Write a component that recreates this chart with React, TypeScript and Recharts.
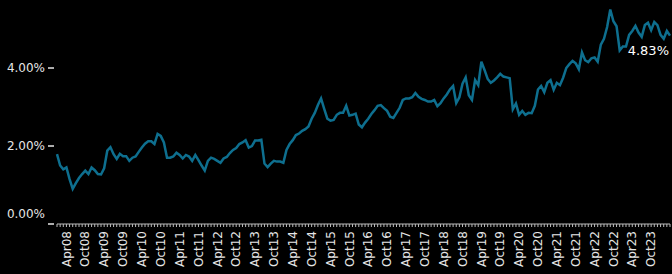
import React from 'react';
import { LineChart, Line, XAxis, YAxis, LabelList } from 'recharts';

// monthly observations, Jan 2008 .. Apr 2024
const monthNames = ['Jan', 'Feb', 'Mar', 'Apr', 'May', 'Jun', 'Jul', 'Aug', 'Sep', 'Oct', 'Nov', 'Dec'];
const years = ['08', '09', '10', '11', '12', '13', '14', '15', '16', '17', '18', '19', '20', '21', '22', '23', '24'];
const labelMonths = ['Apr', 'Oct'];
const lastLabelled = 'Oct23';
const yTicks = [0, 2, 4];

const rates = [
  1.79, 1.5, 1.4, 1.45, 1.15, 0.9, 1.05, 1.18, 1.28, 1.37, 1.28, 1.45,
  1.38, 1.28, 1.27, 1.43, 1.88, 1.97, 1.79, 1.67, 1.8, 1.74, 1.74, 1.62,
  1.7, 1.73, 1.85, 1.96, 2.06, 2.12, 2.12, 2.05, 2.31, 2.26, 2.09, 1.7,
  1.7, 1.73, 1.83, 1.77, 1.68, 1.77, 1.73, 1.62, 1.77, 1.64, 1.5, 1.37,
  1.62, 1.7, 1.67, 1.62, 1.57, 1.68, 1.72, 1.82, 1.9, 1.95, 2.05, 2.09,
  2.15, 1.96, 2.0, 2.14, 2.14, 2.16, 1.55, 1.46, 1.55, 1.62, 1.6, 1.6,
  1.57, 1.9, 2.05, 2.15, 2.28, 2.32, 2.39, 2.43, 2.5, 2.7, 2.85, 3.05,
  3.22, 2.95, 2.7, 2.65, 2.67, 2.8, 2.85, 2.85, 3.03, 2.78, 2.8, 2.83,
  2.55, 2.48, 2.6, 2.7, 2.82, 2.92, 3.03, 3.05, 2.97, 2.9, 2.75, 2.72,
  2.85, 2.98, 3.18, 3.22, 3.22, 3.25, 3.36, 3.26, 3.21, 3.18, 3.14, 3.14,
  3.18, 3.02, 3.1, 3.22, 3.32, 3.45, 3.54, 3.1, 3.25, 3.6, 3.76, 3.3,
  3.18, 3.69, 3.56, 4.16, 3.95, 3.72, 3.62, 3.68, 3.76, 3.85, 3.78, 3.76,
  3.74, 2.94, 3.09, 2.8, 2.9, 2.8, 2.85, 2.84, 3.03, 3.45, 3.54, 3.38,
  3.62, 3.69, 3.44, 3.62, 3.56, 3.75, 4.0, 4.1, 4.18, 4.12, 3.97, 4.4,
  4.2, 4.15, 4.25, 4.27, 4.16, 4.6, 4.75, 5.05, 5.5, 5.2, 5.07, 4.45,
  4.55, 4.55, 4.85, 4.95, 5.08, 4.91, 4.8, 5.1, 5.16, 4.97, 5.18, 5.1,
  4.85, 4.75, 4.95, 4.83,
];

const categories: string[] = [];
years.forEach((yr) => monthNames.forEach((m) => categories.push(m + yr)));

const data = rates.map((v, i) => ({ month: categories[i], rate: v }));
const lastIdx = categories.indexOf(lastLabelled);

const TEXT = '#e6e6e6';
const FONT = 'DejaVu Sans, sans-serif';

const XTick = (props: any) => {
  const { x, y, payload } = props;
  const label: string = payload.value;
  const show = labelMonths.includes(label.slice(0, 3)) && categories.indexOf(label) <= lastIdx;
  return (
    <g>
      <line x1={x} y1={y} x2={x} y2={y + 3} stroke="#bbb" strokeWidth={1} />
      {show && (
        <text
          x={x}
          y={y + 7}
          dy="0.35em"
          transform={`rotate(-90, ${x}, ${y + 7})`}
          textAnchor="end"
          fill={TEXT}
          fontSize={12}
          fontFamily={FONT}
        >
          {label}
        </text>
      )}
    </g>
  );
};

const YTick = (props: any) => {
  const { x, y, payload } = props;
  const shift = payload.value === 0 ? -10 : 0;
  return (
    <g>
      <line x1={x - 9} y1={y} x2={x - 3} y2={y} stroke={TEXT} strokeWidth={1.5} />
      <text
        x={x - 12}
        y={y + shift}
        dy="0.35em"
        textAnchor="end"
        fill={TEXT}
        fontSize={12}
        fontFamily={FONT}
      >
        {payload.value.toFixed(2)}%
      </text>
    </g>
  );
};

const LastLabel = (props: any) => {
  const { x, y, index, value } = props;
  if (index !== rates.length - 1) return null;
  return (
    <text x={x - 1} y={y + 19} textAnchor="end" fill="#fff" fontSize={13} fontFamily={FONT}>
      {Number(value).toFixed(2)}%
    </text>
  );
};

export default function App() {
  return (
    <div style={{ position: 'absolute', left: 0, top: 0, width: 672, height: 274, background: '#000' }}>
      <LineChart width={672} height={274} data={data} margin={{ top: 6, right: 2, left: 0, bottom: 0 }}>
        <XAxis
          dataKey="month"
          interval={0}
          height={50}
          tickSize={0}
          tickMargin={0}
          tickLine={false}
          axisLine={{ stroke: '#bbb' }}
          tick={<XTick />}
        />
        <YAxis
          type="number"
          domain={[0, 5.59]}
          ticks={yTicks}
          width={57}
          axisLine={false}
          tickLine={false}
          tickSize={0}
          tickMargin={0}
          tick={<YTick />}
        />
        <Line
          type="linear"
          dataKey="rate"
          stroke="#0E6F8F"
          strokeWidth={2.5}
          dot={false}
          isAnimationActive={false}
        >
          <LabelList dataKey="rate" content={<LastLabel />} />
        </Line>
      </LineChart>
    </div>
  );
}
